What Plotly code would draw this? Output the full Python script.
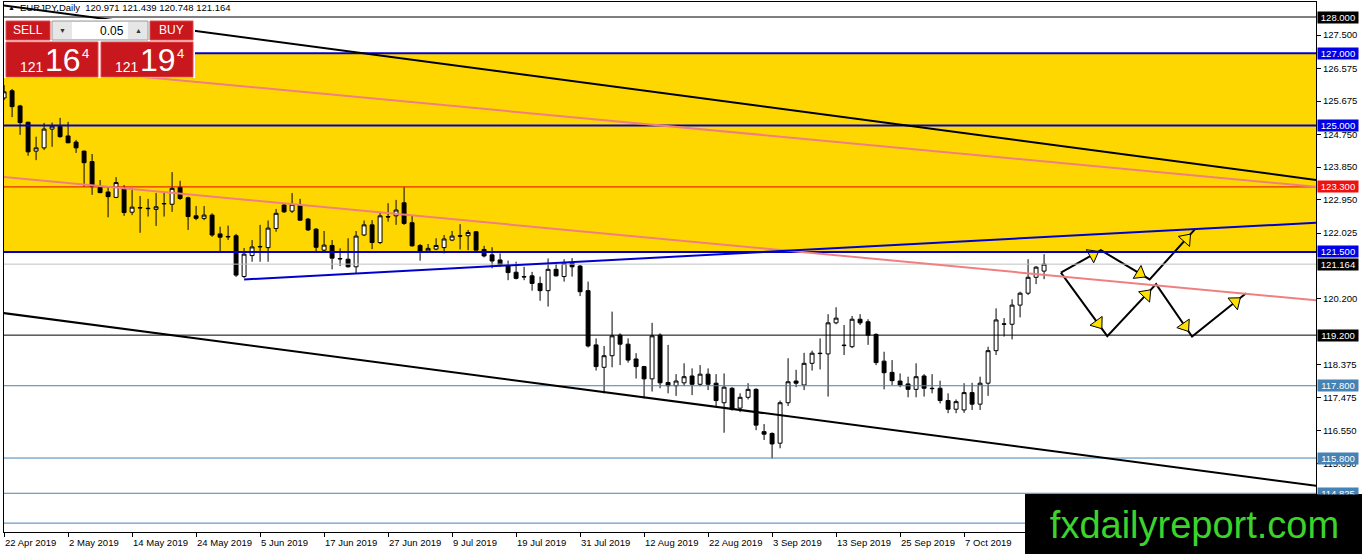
import plotly.graph_objects as go

# ---------------- data ----------------
# daily EURJPY bars, bar 0 = 22 Apr 2019, weekdays only
bar_open = [125.76, 125.96, 125.54, 125.09, 124.29, 124.38, 124.90, 124.97, 124.71, 124.54,
            124.29, 124.00, 123.29, 123.16, 123.01, 123.26, 122.60, 122.73, 122.71, 122.68,
            122.83, 122.82, 123.29, 123.00, 122.50, 122.43, 122.52, 122.00, 121.93, 121.95,
            120.82, 121.40, 121.64, 121.62, 122.15, 122.80, 122.63, 122.80, 122.41, 122.13,
            121.55, 121.68, 121.32, 121.30, 121.09, 121.97, 122.25, 121.76, 122.48, 122.50,
            122.86, 122.31, 121.68, 121.53, 121.58, 121.62, 121.83, 121.95, 121.95, 122.06,
            121.57, 121.42, 121.28, 121.11, 120.94, 120.82, 120.84, 120.63, 120.43, 121.02,
            120.82, 121.20, 121.11, 120.43, 118.93, 118.31, 118.63, 119.20, 118.95, 118.54,
            118.33, 117.99, 119.20, 117.89, 117.80, 117.88, 118.07, 117.84, 118.12, 117.87,
            117.33, 117.73, 117.18, 117.48, 117.70, 116.53, 116.48, 116.21, 117.33, 117.93,
            117.82, 118.42, 118.70, 118.68, 119.54, 118.91, 118.88, 119.64, 119.57, 119.22,
            118.48, 118.17, 117.93, 117.85, 117.70, 118.07, 117.73, 117.73, 117.39, 117.15,
            117.13, 117.61, 117.29, 117.87, 118.77, 119.50, 119.50, 120.03, 120.36, 120.80,
            120.971]
bar_high = [126.12, 126.01, 125.57, 125.10, 124.69, 125.07, 125.08, 125.21, 125.10, 124.60,
            124.30, 124.21, 123.49, 123.31, 123.57, 123.35, 123.27, 123.05, 122.97, 123.13,
            123.14, 123.71, 123.47, 123.03, 122.77, 122.77, 122.57, 122.20, 122.23, 122.00,
            121.61, 121.83, 122.25, 122.37, 122.69, 122.83, 123.13, 122.97, 122.44, 122.16,
            122.08, 121.83, 121.60, 121.88, 122.08, 122.37, 122.38, 122.61, 122.85, 122.94,
            123.29, 122.50, 121.72, 121.72, 121.88, 121.97, 122.08, 122.27, 122.11, 122.08,
            121.67, 121.63, 121.46, 121.26, 121.23, 121.09, 120.95, 120.82, 121.32, 121.17,
            121.30, 121.33, 121.14, 120.68, 119.11, 118.90, 119.85, 119.25, 119.11, 118.70,
            118.35, 119.54, 119.25, 118.93, 118.12, 118.42, 118.28, 118.37, 118.28, 118.12,
            118.14, 117.76, 117.59, 117.87, 117.73, 116.74, 116.51, 117.39, 118.56, 118.24,
            118.71, 118.77, 119.11, 119.78, 119.97, 119.48, 119.73, 119.78, 119.64, 119.25,
            118.74, 118.51, 118.14, 118.05, 118.42, 118.12, 118.12, 117.94, 117.59, 117.42,
            117.87, 117.88, 118.05, 118.88, 119.94, 119.67, 120.19, 120.40, 121.30, 121.11,
            121.439]
bar_low = [125.70, 125.23, 124.74, 124.16, 124.04, 124.32, 124.41, 124.66, 124.51, 124.24,
           123.31, 123.08, 123.13, 122.46, 122.99, 122.50, 122.52, 122.03, 122.48, 122.22,
           122.48, 122.61, 122.94, 122.11, 122.38, 122.38, 121.92, 121.51, 121.83, 120.81,
           120.78, 121.23, 121.23, 121.23, 122.06, 122.58, 122.58, 122.37, 122.08, 121.51,
           121.51, 121.02, 121.11, 121.07, 120.91, 121.94, 121.58, 121.72, 122.34, 122.25,
           122.25, 121.65, 121.26, 121.51, 121.55, 121.46, 121.80, 121.57, 121.55, 121.55,
           121.35, 121.05, 121.09, 120.72, 120.74, 120.72, 120.43, 120.15, 119.99, 120.82,
           120.68, 120.82, 120.28, 118.86, 118.22, 117.59, 118.31, 118.37, 118.44, 118.00,
           117.45, 117.64, 117.73, 117.59, 117.52, 117.79, 117.54, 117.79, 117.68, 117.22,
           116.50, 117.11, 117.07, 117.42, 116.57, 116.30, 115.79, 116.07, 117.24, 117.76,
           117.68, 118.22, 118.25, 117.50, 119.50, 118.65, 118.84, 119.48, 118.93, 118.37,
           117.70, 117.82, 117.76, 117.48, 117.48, 117.50, 117.59, 117.31, 117.04, 117.04,
           117.05, 117.13, 117.13, 117.52, 118.65, 119.16, 119.08, 119.69, 120.31, 120.61,
           120.748]
bar_close = [125.93, 125.52, 125.08, 124.27, 124.38, 124.90, 124.98, 124.69, 124.52, 124.38,
             123.97, 123.31, 123.14, 123.03, 123.42, 122.59, 122.74, 122.72, 122.70, 122.75,
             122.84, 123.26, 122.98, 122.48, 122.43, 122.52, 121.97, 121.91, 121.92, 120.86,
             121.44, 121.64, 121.65, 122.16, 122.57, 122.61, 122.82, 122.38, 122.11, 121.63,
             121.69, 121.33, 121.31, 121.09, 121.94, 122.25, 121.76, 122.50, 122.47, 122.66,
             122.29, 121.67, 121.51, 121.60, 121.68, 121.86, 121.94, 121.94, 122.04, 121.55,
             121.39, 121.25, 121.14, 120.93, 120.77, 120.81, 120.63, 120.43, 121.02, 120.84,
             121.19, 121.09, 120.40, 118.90, 118.33, 118.63, 119.18, 118.95, 118.51, 118.33,
             117.99, 119.18, 117.88, 117.80, 117.93, 118.05, 117.84, 118.12, 117.84, 117.39,
             117.76, 117.15, 117.48, 117.70, 116.71, 116.46, 116.19, 117.33, 117.91, 117.87,
             118.42, 118.70, 118.69, 119.54, 119.67, 118.92, 119.64, 119.54, 119.20, 118.44,
             118.16, 117.94, 117.82, 117.70, 118.05, 117.73, 117.72, 117.39, 117.15, 117.36,
             117.61, 117.29, 117.87, 118.77, 119.62, 119.51, 120.03, 120.36, 120.80, 121.08,
             121.164]
bar_index = list(range(len(bar_close)))

date_tick_bars = [0, 8, 16, 24, 32, 40, 48, 56, 64, 72, 80, 88, 96, 104, 112, 120]
date_tick_labels = ["22 Apr 2019", "2 May 2019", "14 May 2019", "24 May 2019", "5 Jun 2019",
                    "17 Jun 2019", "27 Jun 2019", "9 Jul 2019", "19 Jul 2019", "31 Jul 2019",
                    "12 Aug 2019", "22 Aug 2019", "3 Sep 2019", "13 Sep 2019", "25 Sep 2019",
                    "7 Oct 2019"]
price_ticks = [127.5, 126.575, 125.675, 124.75, 123.85, 122.95, 122.025,
               120.2, 118.375, 117.475, 116.55, 115.65]

# horizontal levels drawn on the chart (with a price tag on the axis)
level_prices = [128.0, 127.0, 125.0, 123.3, 121.5, 121.164, 119.2, 117.8, 115.8, 114.825]
level_kinds = ["black", "blue", "blue", "red", "blue", "bid", "black", "steel", "steel", "steel"]
# level whose tag sits under the watermark
hidden_tag_levels = [114.0]

zone_low, zone_high = 121.5, 127.0

# trend lines: (bar, price) end points
upper_channel = ([-0.4, 164.1], [128.33, 123.49])
lower_channel = ([-0.4, 164.1], [119.82, 115.03])
upper_pink = ([-0.4, 164.1], [126.71, 123.30])
lower_pink = ([-0.4, 164.1], [123.58, 120.16])
blue_support = ([30.0, 164.0], [120.74, 122.31])

# scenario arrows (bar, price) vertices
path_up_bars = [132.1, 137.1, 143.2, 148.9]
path_up_prices = [120.93, 121.55, 120.74, 122.14]
path_down_bars = [132.1, 137.9, 144.0, 148.5, 155.25]
path_down_prices = [120.93, 119.17, 120.61, 119.16, 120.36]

# ---------------- styling ----------------
W, H = 1362, 554
L, R, T, B = 4, 1316, 2, 532
FONT = "Liberation Sans, Arial, sans-serif"
BLUE = "#0000CD"
STEEL = "#4682B4"
RED_BTN = "#C8171D"

kind_style = {
    "black": ("#000000", 1, "#000000"),
    "blue": (BLUE, 2, "#0000E6"),
    "red": ("#E00000", 1, "#F01010"),
    "bid": ("#C0C0C0", 1, "#000000"),
    "steel": (STEEL, 1, STEEL),
}


def px(x):
    return (x - L) / (R - L)


def py(y):
    return (B - y) / (B - T)


fig = go.Figure()

fig.add_trace(go.Candlestick(
    x=bar_index, open=bar_open, high=bar_high, low=bar_low, close=bar_close,
    increasing=dict(fillcolor="white", line=dict(color="black", width=1)),
    decreasing=dict(fillcolor="black", line=dict(color="black", width=1)),
    whiskerwidth=0, hoverinfo="skip", showlegend=False,
))

# arrows: black path + yellow heads near the end of each leg
for bars, prices in [(path_up_bars, path_up_prices), (path_down_bars, path_down_prices)]:
    fig.add_trace(go.Scatter(x=bars, y=prices, mode="lines",
                             line=dict(color="black", width=2),
                             hoverinfo="skip", showlegend=False))
    for k in range(len(bars) - 1):
        hx = bars[k] + 0.8 * (bars[k + 1] - bars[k])
        hy = prices[k] + 0.8 * (prices[k + 1] - prices[k])
        fig.add_trace(go.Scatter(
            x=[bars[k], hx], y=[prices[k], hy], mode="markers",
            marker=dict(symbol="triangle-up", size=[0, 13], opacity=[0, 1],
                        angleref="previous", color="#FFE000",
                        line=dict(color="black", width=1)),
            hoverinfo="skip", showlegend=False))

shapes = []
shapes.append(dict(type="rect", xref="paper", yref="y", x0=0, x1=1,
                   y0=zone_low, y1=zone_high, fillcolor="#FFD700",
                   line=dict(width=0), layer="below"))

for p, kind in list(zip(level_prices, level_kinds)) + [(v, "steel") for v in hidden_tag_levels]:
    col, wid, _ = kind_style[kind]
    shapes.append(dict(type="line", xref="paper", yref="y", x0=0, x1=1, y0=p, y1=p,
                       line=dict(color=col, width=wid), layer="above"))

for (xs, ys), col in [(upper_pink, "#F08080"), (lower_pink, "#F08080"),
                      (upper_channel, "#000000"), (lower_channel, "#000000"),
                      (blue_support, BLUE)]:
    shapes.append(dict(type="line", xref="x", yref="y", x0=xs[0], x1=xs[1],
                       y0=ys[0], y1=ys[1], line=dict(color=col, width=2), layer="above"))


def prect(x0, y0, x1, y1, fill, line=None):
    shapes.append(dict(type="rect", xref="paper", yref="paper",
                       x0=px(x0), x1=px(x1), y0=py(y1), y1=py(y0),
                       fillcolor=fill, layer="above",
                       line=dict(color=line or fill, width=1 if line else 0)))


# one-click trading panel
prect(4, 19, 195, 78, "white")
prect(6, 21, 50, 40, RED_BTN, "#E0484C")
prect(52, 21, 148, 40, "#E6E6E6", "#9A9A9A")
prect(72, 22, 128, 39, "white")
prect(150, 21, 193, 40, RED_BTN, "#E0484C")
prect(6, 42, 98, 77, RED_BTN, "#E0484C")
prect(101, 42, 193, 77, RED_BTN, "#E0484C")

# watermark box covers the bottom-right corner
prect(1025, 494, 1362, 554, "black")

annotations = []


def ptext(x, y, text, size, color="black", xanchor="left", family=FONT):
    annotations.append(dict(xref="paper", yref="paper", x=px(x), y=py(y), text=text,
                            showarrow=False, xanchor=xanchor, yanchor="middle",
                            font=dict(family=family, size=size, color=color)))


ptext(6, 8, "▲", 7)
ptext(18, 8, "EURJPY,Daily  120.971 121.439 120.748 121.164", 9.5)
ptext(28, 30, "SELL", 12, "white", "center")
ptext(171, 30, "BUY", 12, "white", "center")
ptext(62, 31, "▼", 7, "#333333", "center")
ptext(138, 31, "▲", 7, "#333333", "center")
ptext(126, 31, "0.05", 12, "black", "right")
ptext(32, 67, "121", 14, "white", "center")
ptext(63, 60, "16", 32, "white", "center")
ptext(85, 54, "4", 13, "white", "center")
ptext(127, 67, "121", 14, "white", "center")
ptext(158, 60, "19", 32, "white", "center")
ptext(180, 54, "4", 13, "white", "center")

# price tags of the horizontal levels
for p, kind in zip(level_prices, level_kinds):
    box = kind_style[kind][2]
    annotations.append(dict(xref="paper", yref="y", x=1, y=p, xshift=1,
                            text="%.3f" % p, showarrow=False, xanchor="left",
                            yanchor="middle", width=40, height=11, align="center",
                            bgcolor=box, borderpad=0,
                            font=dict(family=FONT, size=9.5, color="white")))

# watermark text (drawn last so it sits over the 114.825 tag)
annotations.append(dict(xref="paper", yref="paper", x=px(1025), y=py(494),
                        xanchor="left", yanchor="top", width=337, height=60,
                        text="fxdailyreport.com", showarrow=False, bgcolor="black",
                        borderpad=0, align="center", valign="middle",
                        font=dict(family=FONT, size=38, color="#3CD42C")))

fig.update_layout(
    width=W, height=H,
    margin=dict(l=L, r=W - R, t=T, b=H - B, pad=0),
    paper_bgcolor="white", plot_bgcolor="white",
    shapes=shapes, annotations=annotations,
    showlegend=False, hovermode=False,
    font=dict(family=FONT, size=9.5, color="black"),
)
fig.update_xaxes(
    range=[-0.01, 163.99], tickvals=date_tick_bars, ticktext=date_tick_labels,
    ticks="outside", ticklen=4, tickcolor="black", ticklabelposition="outside right",
    ticklabelstandoff=2, showgrid=False, zeroline=False, rangeslider_visible=False,
    showline=True, linecolor="black", linewidth=1, mirror=True,
    tickfont=dict(family=FONT, size=9.5, color="black"),
)
fig.update_yaxes(
    range=[113.754, 128.415], side="right", tickvals=price_ticks,
    ticktext=["%.3f" % v for v in price_ticks],
    ticks="outside", ticklen=4, tickcolor="black", showgrid=False, zeroline=False,
    showline=True, linecolor="black", linewidth=1, mirror=True,
    tickfont=dict(family=FONT, size=9.5, color="black"),
)

fig.write_html("out.html", config={"displayModeBar": False},
               post_script="document.body.style.margin='0';document.body.style.overflow='hidden';")
